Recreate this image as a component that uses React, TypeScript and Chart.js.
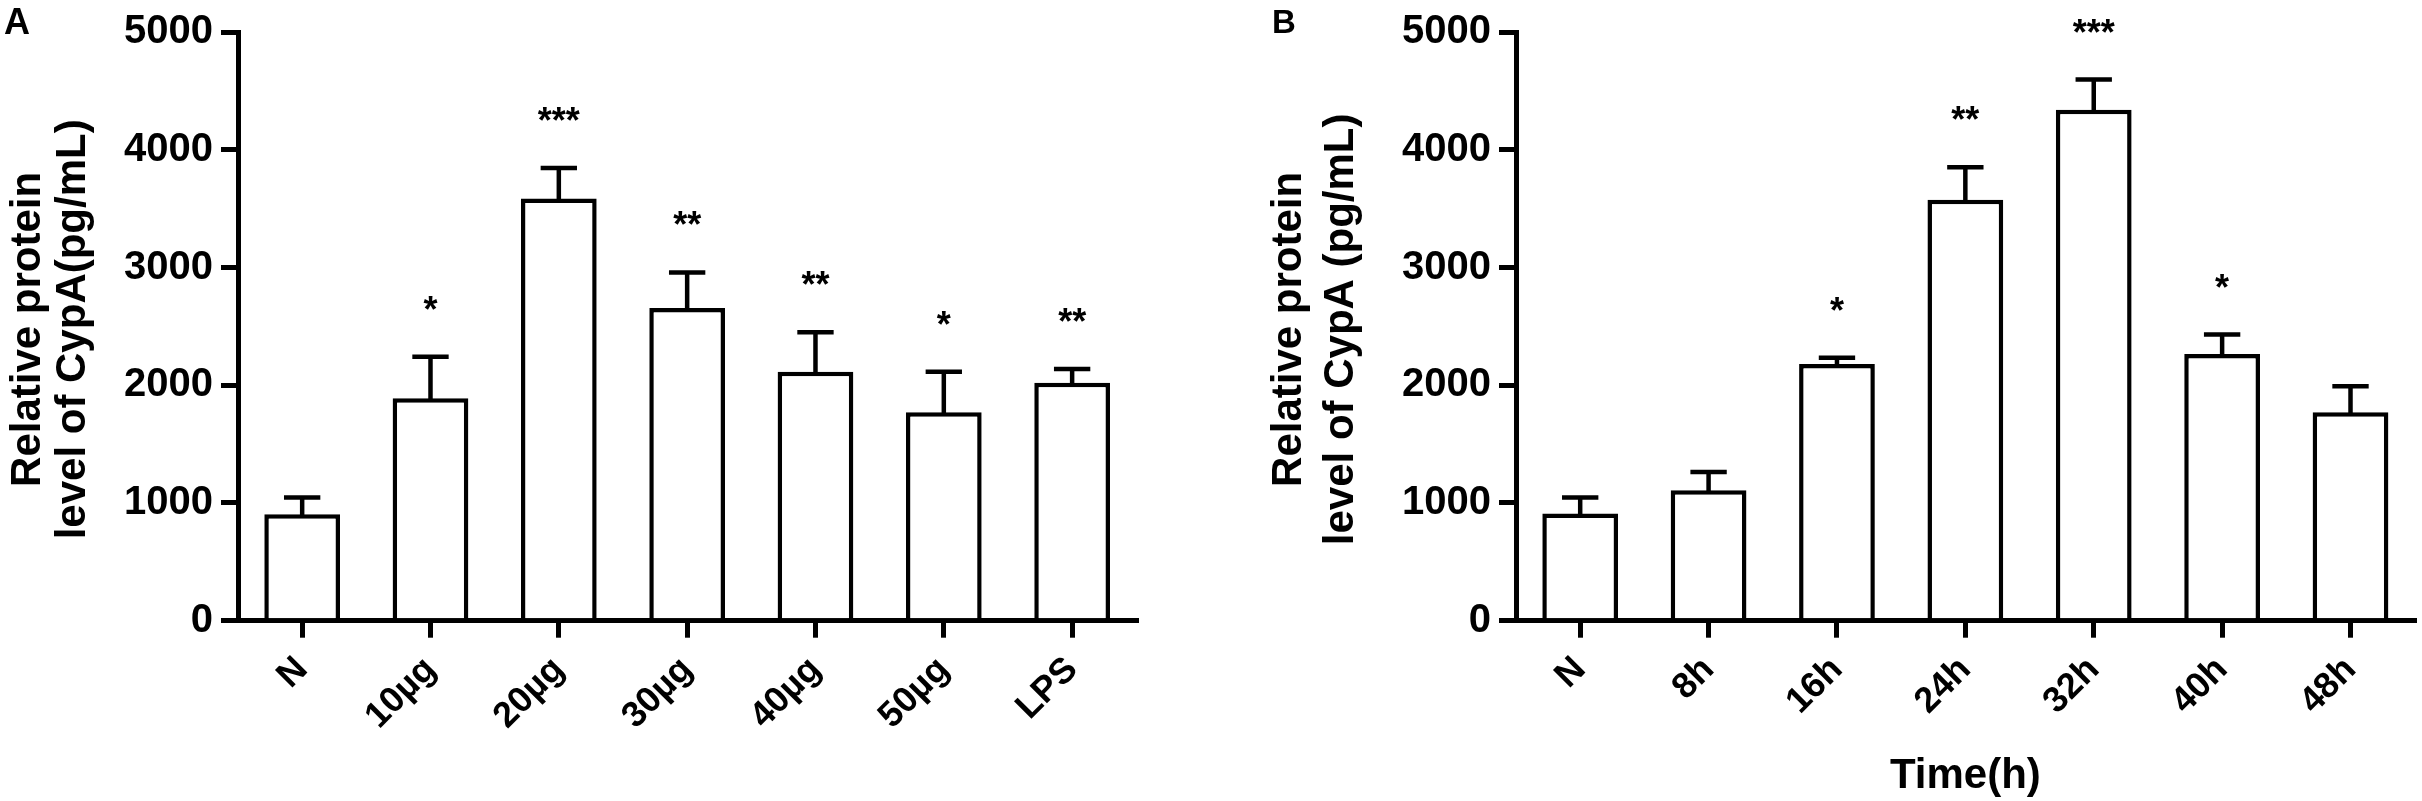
import React, { useEffect, useRef } from "react";
import { Chart, registerables } from "chart.js";

Chart.register(...registerables);

// ---- Data ----
const doseCategories = ["N", "10µg", "20µg", "30µg", "40µg", "50µg", "LPS"];
const doseMeans = [905, 1890, 3585, 2655, 2115, 1770, 2020];
const doseErrors = [142, 352, 260, 303, 335, 344, 117];
const doseStars = ["", "*", "***", "**", "**", "*", "**"];

const timeCategories = ["N", "8h", "16h", "24h", "32h", "40h", "48h"];
const timeMeans = [910, 1108, 2180, 3575, 4340, 2265, 1770];
const timeErrors = [136, 154, 54, 276, 256, 165, 221];
const timeStars = ["", "", "*", "**", "***", "*", ""];

const yMin = 0;
const yMax = 5000;
const yStep = 1000;

const titleA = ["Relative protein", "level of CypA(pg/mL)"];
const titleB = ["Relative protein", "level of CypA (pg/mL)"];
const xTitleB = "Time(h)";

const FONT = '"Liberation Sans", Arial, sans-serif';
const H = 801;
const CANVAS_W = 1211;

type PanelCfg = {
  left: number;
  axisX: number;
  areaRight: number;
  labels: string[];
  means: number[];
  errors: number[];
  stars: string[];
  title: string[];
  titleBaselines: number[];
  letter: string;
  letterX: number;
  letterBaseline: number;
  letterSize: number;
  xTitle?: string;
};

const panels: PanelCfg[] = [
  {
    left: 0,
    axisX: 238,
    areaRight: 1136.3,
    labels: doseCategories,
    means: doseMeans,
    errors: doseErrors,
    stars: doseStars,
    title: titleA,
    titleBaselines: [40, 85],
    letter: "A",
    letterX: 4,
    letterBaseline: 34,
    letterSize: 36,
  },
  {
    left: 1211,
    axisX: 1516,
    areaRight: 2414.7,
    labels: timeCategories,
    means: timeMeans,
    errors: timeErrors,
    stars: timeStars,
    title: titleB,
    titleBaselines: [1301, 1353],
    letter: "B",
    letterX: 1272,
    letterBaseline: 33,
    letterSize: 33,
    xTitle: xTitleB,
  },
];

const AREA_TOP = 20.7;
const AREA_BOTTOM = 620.7;

function Panel({ cfg }: { cfg: PanelCfg }) {
  const ref = useRef<HTMLCanvasElement | null>(null);
  useEffect(() => {
    if (!ref.current) return;
    const overlay = {
      id: "overlay",
      afterDatasetsDraw(chart: any) {
        const ctx = chart.ctx as CanvasRenderingContext2D;
        const meta = chart.getDatasetMeta(0);
        const ys = chart.scales.y;
        ctx.save();
        ctx.strokeStyle = "#000";
        ctx.fillStyle = "#000";
        ctx.lineWidth = 4.5;
        ctx.lineCap = "butt";
        meta.data.forEach((bar: any, i: number) => {
          const p = bar.getProps(["x", "y", "width"], true);
          const capY = ys.getPixelForValue(cfg.means[i] + cfg.errors[i]);
          const half = p.width * 0.24;
          ctx.beginPath();
          ctx.moveTo(p.x, p.y + 2);
          ctx.lineTo(p.x, capY);
          ctx.stroke();
          ctx.beginPath();
          ctx.moveTo(p.x - half, capY);
          ctx.lineTo(p.x + half, capY);
          ctx.stroke();
          if (cfg.stars[i]) {
            ctx.font = `bold 36px ${FONT}`;
            ctx.textAlign = "center";
            ctx.textBaseline = "alphabetic";
            ctx.fillText(cfg.stars[i], p.x, capY - 55 + 20);
          }
        });
        // y title
        const midY = (chart.chartArea.top + chart.chartArea.bottom) / 2 + 3;
        ctx.font = `bold 42px ${FONT}`;
        ctx.textAlign = "center";
        ctx.textBaseline = "alphabetic";
        cfg.title.forEach((line, k) => {
          ctx.save();
          ctx.translate(cfg.titleBaselines[k] - cfg.left, midY);
          ctx.rotate(-Math.PI / 2);
          ctx.fillText(line, 0, 0);
          ctx.restore();
        });
        // panel letter
        ctx.font = `bold ${cfg.letterSize}px ${FONT}`;
        ctx.textAlign = "left";
        ctx.fillText(cfg.letter, cfg.letterX - cfg.left, cfg.letterBaseline);
        // x title
        if (cfg.xTitle) {
          ctx.font = `bold 42px ${FONT}`;
          ctx.textAlign = "center";
          const cx = (chart.chartArea.left + chart.chartArea.right) / 2;
          ctx.fillText(cfg.xTitle, cx, 788);
        }
        ctx.restore();
      },
    };

    const chart = new Chart(ref.current, {
      type: "bar",
      data: {
        labels: cfg.labels,
        datasets: [
          {
            data: cfg.means,
            backgroundColor: "#fff",
            borderColor: "#000",
            borderWidth: 4.5,
            borderSkipped: "start",
            categoryPercentage: 1,
            barPercentage: 0.59,
          },
        ],
      },
      options: {
        animation: false,
        responsive: false,
        maintainAspectRatio: false,
        devicePixelRatio: 1,
        layout: {
          autoPadding: false,
          padding: {
            top: AREA_TOP,
            bottom: 0,
            left: 0,
            right: CANVAS_W - (cfg.areaRight - cfg.left),
          },
        },
        plugins: {
          legend: { display: false },
          tooltip: { enabled: false },
          title: { display: false },
        },
        scales: {
          x: {
            type: "category",
            offset: true,
            z: 1,
            grid: {
              offset: false,
              drawOnChartArea: false,
              drawTicks: true,
              tickLength: 17,
              color: "#000",
              lineWidth: 5,
            },
            border: { display: true, color: "#000", width: 5 },
            ticks: {
              color: "#000",
              font: { family: FONT, size: 36, weight: "bold" },
              minRotation: 45,
              maxRotation: 45,
              padding: 11,
              autoSkip: false,
            },
            afterFit(scale: any) {
              scale.height = H - AREA_BOTTOM;
            },
          },
          y: {
            min: yMin,
            max: yMax,
            z: 1,
            grid: {
              drawOnChartArea: false,
              drawTicks: true,
              tickLength: 17,
              color: "#000",
              lineWidth: 5,
            },
            border: { display: true, color: "#000", width: 5 },
            ticks: {
              stepSize: yStep,
              color: "#000",
              font: { family: FONT, size: 40, weight: "bold" },
              padding: 8,
              callback: (v: any) => String(v),
            },
            afterFit(scale: any) {
              scale.width = cfg.axisX - cfg.left;
            },
          },
        },
      },
      plugins: [overlay],
    });
    return () => chart.destroy();
  }, [cfg]);

  return (
    <canvas
      ref={ref}
      width={CANVAS_W}
      height={H}
      style={{
        position: "absolute",
        left: cfg.left,
        top: 0,
        width: CANVAS_W,
        height: H,
      }}
    />
  );
}

export default function App() {
  return (
    <div
      style={{
        position: "fixed",
        left: 0,
        top: 0,
        width: 2422,
        height: H,
        background: "#fff",
        overflow: "hidden",
      }}
    >
      {panels.map((p) => (
        <Panel key={p.letter} cfg={p} />
      ))}
    </div>
  );
}
